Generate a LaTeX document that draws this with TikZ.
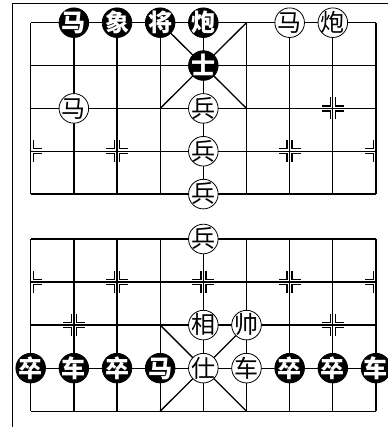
\documentclass[tikz,border=0pt]{standalone}
\usepackage{fontspec}
\newfontfamily\cjk{Noto Sans CJK SC}
\newcommand\pc[1]{\raisebox{-0.37em}[0pt][0pt]{\makebox[0pt]{#1}}}
\tikzset{
  gridline/.style={line width=1.3pt},
  frameline/.style={line width=1.6pt},
  markline/.style={line width=1.4pt},
  wpiece/.style={circle, draw, line width=0.8pt, fill=white, minimum size=29.6pt, inner sep=0pt, font=\cjk\fontsize{24}{24}\selectfont},
  bpiece/.style={circle, draw, line width=0.8pt, fill=black, text=white, minimum size=29.6pt, inner sep=0pt, font=\cjk\bfseries\fontsize{24}{24}\selectfont},
}
\newcommand\posmark[2]{%
  \foreach \sx in {#2}{\foreach \sy in {-1,1}{%
    \draw[markline] ([shift={(\sx*2.5,\sy*11)}]#1) -- ([shift={(\sx*2.5,\sy*2.5)}]#1) -- ([shift={(\sx*11,\sy*2.5)}]#1);
  }}}
\begin{document}
\begin{tikzpicture}[x=1pt,y=-1pt]
\useasboundingbox (0,0) rectangle (387,427);
% frame
\draw[frameline] (12.3,430) -- (12.3,3.7) -- (390,3.7);
% points
\foreach \c in {0,...,8}{
  \foreach \r in {0,...,4}{\coordinate (p-\c-\r) at ({30.7+43.16*\c},{22.7+42.85*\r});}
  \foreach \r in {5,...,9}{\coordinate (p-\c-\r) at ({30.7+43.16*\c},{239+43.05*(\r-5)});}
}
% grid
\foreach \r in {0,...,9}{\draw[gridline] (p-0-\r) -- (p-8-\r);}
\foreach \c in {0,...,8}{\draw[gridline] (p-\c-0) -- (p-\c-4); \draw[gridline] (p-\c-5) -- (p-\c-9);}
% palaces
\draw[gridline] (p-3-0) -- (p-5-2); \draw[gridline] (p-5-0) -- (p-3-2);
\draw[gridline] (p-3-7) -- (p-5-9); \draw[gridline] (p-5-7) -- (p-3-9);
% position marks
\posmark{p-1-2}{-1,1} \posmark{p-7-2}{-1,1}
\posmark{p-0-3}{1} \posmark{p-2-3}{-1,1} \posmark{p-4-3}{-1,1} \posmark{p-6-3}{-1,1} \posmark{p-8-3}{-1}
\posmark{p-0-6}{1} \posmark{p-2-6}{-1,1} \posmark{p-4-6}{-1,1} \posmark{p-6-6}{-1,1} \posmark{p-8-6}{-1}
\posmark{p-1-7}{-1,1} \posmark{p-7-7}{-1,1}
% top pieces
\node[bpiece] (bma1) at (p-1-0) {\pc{马}};
\node[bpiece] (bxiang) at (p-2-0) {\pc{象}};
\node[bpiece] (bjiang) at (p-3-0) {\pc{将}};
\node[bpiece] (bpao) at (p-4-0) {\pc{炮}};
\node[wpiece] (wma1) at (p-6-0) {\pc{马}};
\node[wpiece] (wpao) at (p-7-0) {\pc{炮}};
\node[bpiece] (bshi) at (p-4-1) {\pc{士}};
\node[wpiece] (wma2) at (p-1-2) {\pc{马}};
\node[wpiece] (wbing1) at (p-4-2) {\pc{兵}};
\node[wpiece] (wbing2) at (p-4-3) {\pc{兵}};
\node[wpiece] (wbing3) at (p-4-4) {\pc{兵}};
% bottom pieces
\node[wpiece] (wbing4) at (p-4-5) {\pc{兵}};
\node[wpiece] (wxiang) at (p-4-7) {\pc{相}};
\node[wpiece] (wshuai) at (p-5-7) {\pc{帅}};
\node[bpiece] (bzu1) at (p-0-8) {\pc{卒}};
\node[bpiece] (bche1) at (p-1-8) {\pc{车}};
\node[bpiece] (bzu2) at (p-2-8) {\pc{卒}};
\node[bpiece] (bma2) at (p-3-8) {\pc{马}};
\node[wpiece] (wshi) at (p-4-8) {\pc{仕}};
\node[wpiece] (wche) at (p-5-8) {\pc{车}};
\node[bpiece] (bzu3) at (p-6-8) {\pc{卒}};
\node[bpiece] (bzu4) at (p-7-8) {\pc{卒}};
\node[bpiece] (bche2) at (p-8-8) {\pc{车}};
\end{tikzpicture}
\end{document}
